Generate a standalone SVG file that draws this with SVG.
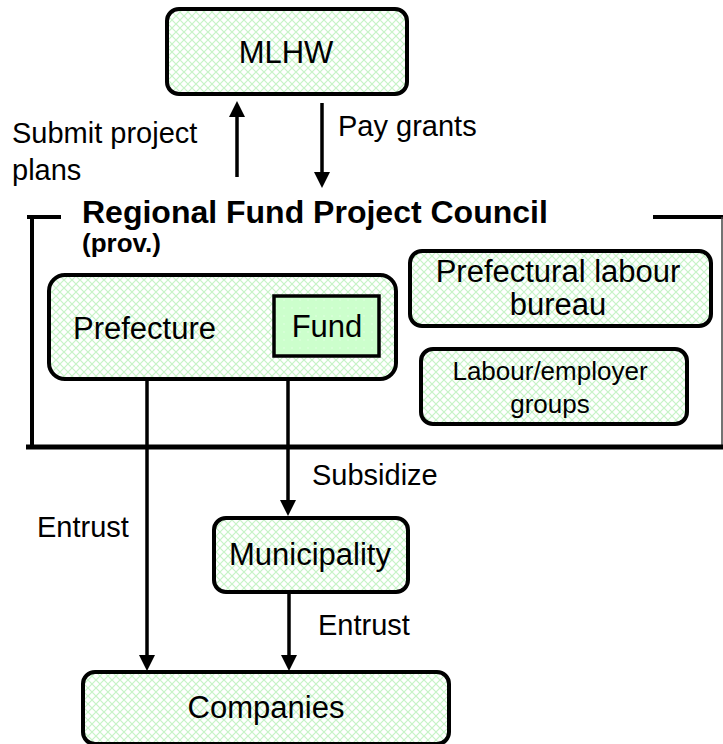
<svg xmlns="http://www.w3.org/2000/svg" width="723" height="744" viewBox="0 0 723 744">
<defs>
<pattern id="hatch" width="8" height="8" patternUnits="userSpaceOnUse">
<rect width="8" height="8" fill="#ffffff"/>
<path d="M0,0 L8,8 M8,0 L0,8" stroke="#c6f3c6" stroke-width="1.2"/>
</pattern>
<pattern id="dots" width="8" height="8" patternUnits="userSpaceOnUse">
<rect width="8" height="8" fill="#ccffcc"/>
<circle cx="4" cy="4" r="0.7" fill="#eaffea"/>
</pattern>
<marker id="ah" viewBox="0 0 16 16" refX="6" refY="8" markerWidth="16" markerHeight="16" markerUnits="userSpaceOnUse" orient="auto">
<path d="M0,0 L16,8 L0,16 Z" fill="#000"/>
</marker>
<style>
.box{fill:url(#hatch);stroke:#000;stroke-width:4}
.t{font-family:"Liberation Sans",Arial,sans-serif;fill:#000}
.conn{stroke:#000;stroke-width:3.5;fill:none}
.lbl{font-size:29px}
.big{font-size:31px}
</style>
</defs>
<rect width="723" height="744" fill="#fff"/>
<g id="council-frame">
<path d="M27,217 H61 M653,217 H723" stroke="#000" stroke-width="4"/>
<path d="M32,215 V447" stroke="#000" stroke-width="4"/>
<path d="M722,217 V447" stroke="#444" stroke-width="1.5"/>
<path d="M26,447 H723" stroke="#000" stroke-width="5"/>
<text class="t" x="82" y="223" font-size="32" font-weight="bold">Regional Fund Project Council</text>
<text class="t" x="82" y="252" font-size="26" font-weight="bold">(prov.)</text>
</g>
<g id="mlhw">
<rect class="box" x="167" y="9" width="240" height="85" rx="12"/>
<text class="t big" x="286" y="63" text-anchor="middle">MLHW</text>
</g>
<g id="prefecture">
<rect class="box" x="49" y="275" width="347" height="104" rx="16"/>
<text class="t big" x="73" y="339">Prefecture</text>
</g>
<g id="fund">
<rect x="274" y="296" width="105" height="60" fill="url(#dots)" stroke="#000" stroke-width="3.5"/>
<text class="t big" x="327" y="337" text-anchor="middle">Fund</text>
</g>
<g id="prefectural-labour-bureau">
<rect class="box" x="410" y="251" width="301" height="75" rx="12"/>
<text class="t big" x="558" y="282" text-anchor="middle">Prefectural labour</text>
<text class="t big" x="558" y="315" text-anchor="middle">bureau</text>
</g>
<g id="labour-employer-groups">
<rect class="box" x="421" y="349" width="266" height="75" rx="12"/>
<text class="t" x="550" y="380" font-size="26" text-anchor="middle">Labour/employer</text>
<text class="t" x="550" y="413" font-size="26" text-anchor="middle">groups</text>
</g>
<g id="municipality">
<rect class="box" x="214" y="518" width="194" height="74" rx="12"/>
<text class="t big" x="310" y="565" text-anchor="middle">Municipality</text>
</g>
<g id="companies">
<rect class="box" x="83" y="672" width="366" height="72" rx="12"/>
<text class="t big" x="266" y="718" text-anchor="middle">Companies</text>
</g>
<g id="connectors">
<line class="conn" x1="237" y1="177" x2="237" y2="111" marker-end="url(#ah)"/>
<line class="conn" x1="322" y1="103" x2="322" y2="178" marker-end="url(#ah)"/>
<line class="conn" x1="147" y1="380" x2="147" y2="661" marker-end="url(#ah)"/>
<line class="conn" x1="288" y1="380" x2="288" y2="506" marker-end="url(#ah)"/>
<line class="conn" x1="289" y1="593" x2="289" y2="661" marker-end="url(#ah)"/>
<text class="t lbl" x="12" y="143">Submit project</text>
<text class="t lbl" x="12" y="180">plans</text>
<text class="t lbl" x="338" y="136">Pay grants</text>
<text class="t lbl" x="312" y="485">Subsidize</text>
<text class="t lbl" x="37" y="537">Entrust</text>
<text class="t lbl" x="318" y="635">Entrust</text>
</g>
</svg>
